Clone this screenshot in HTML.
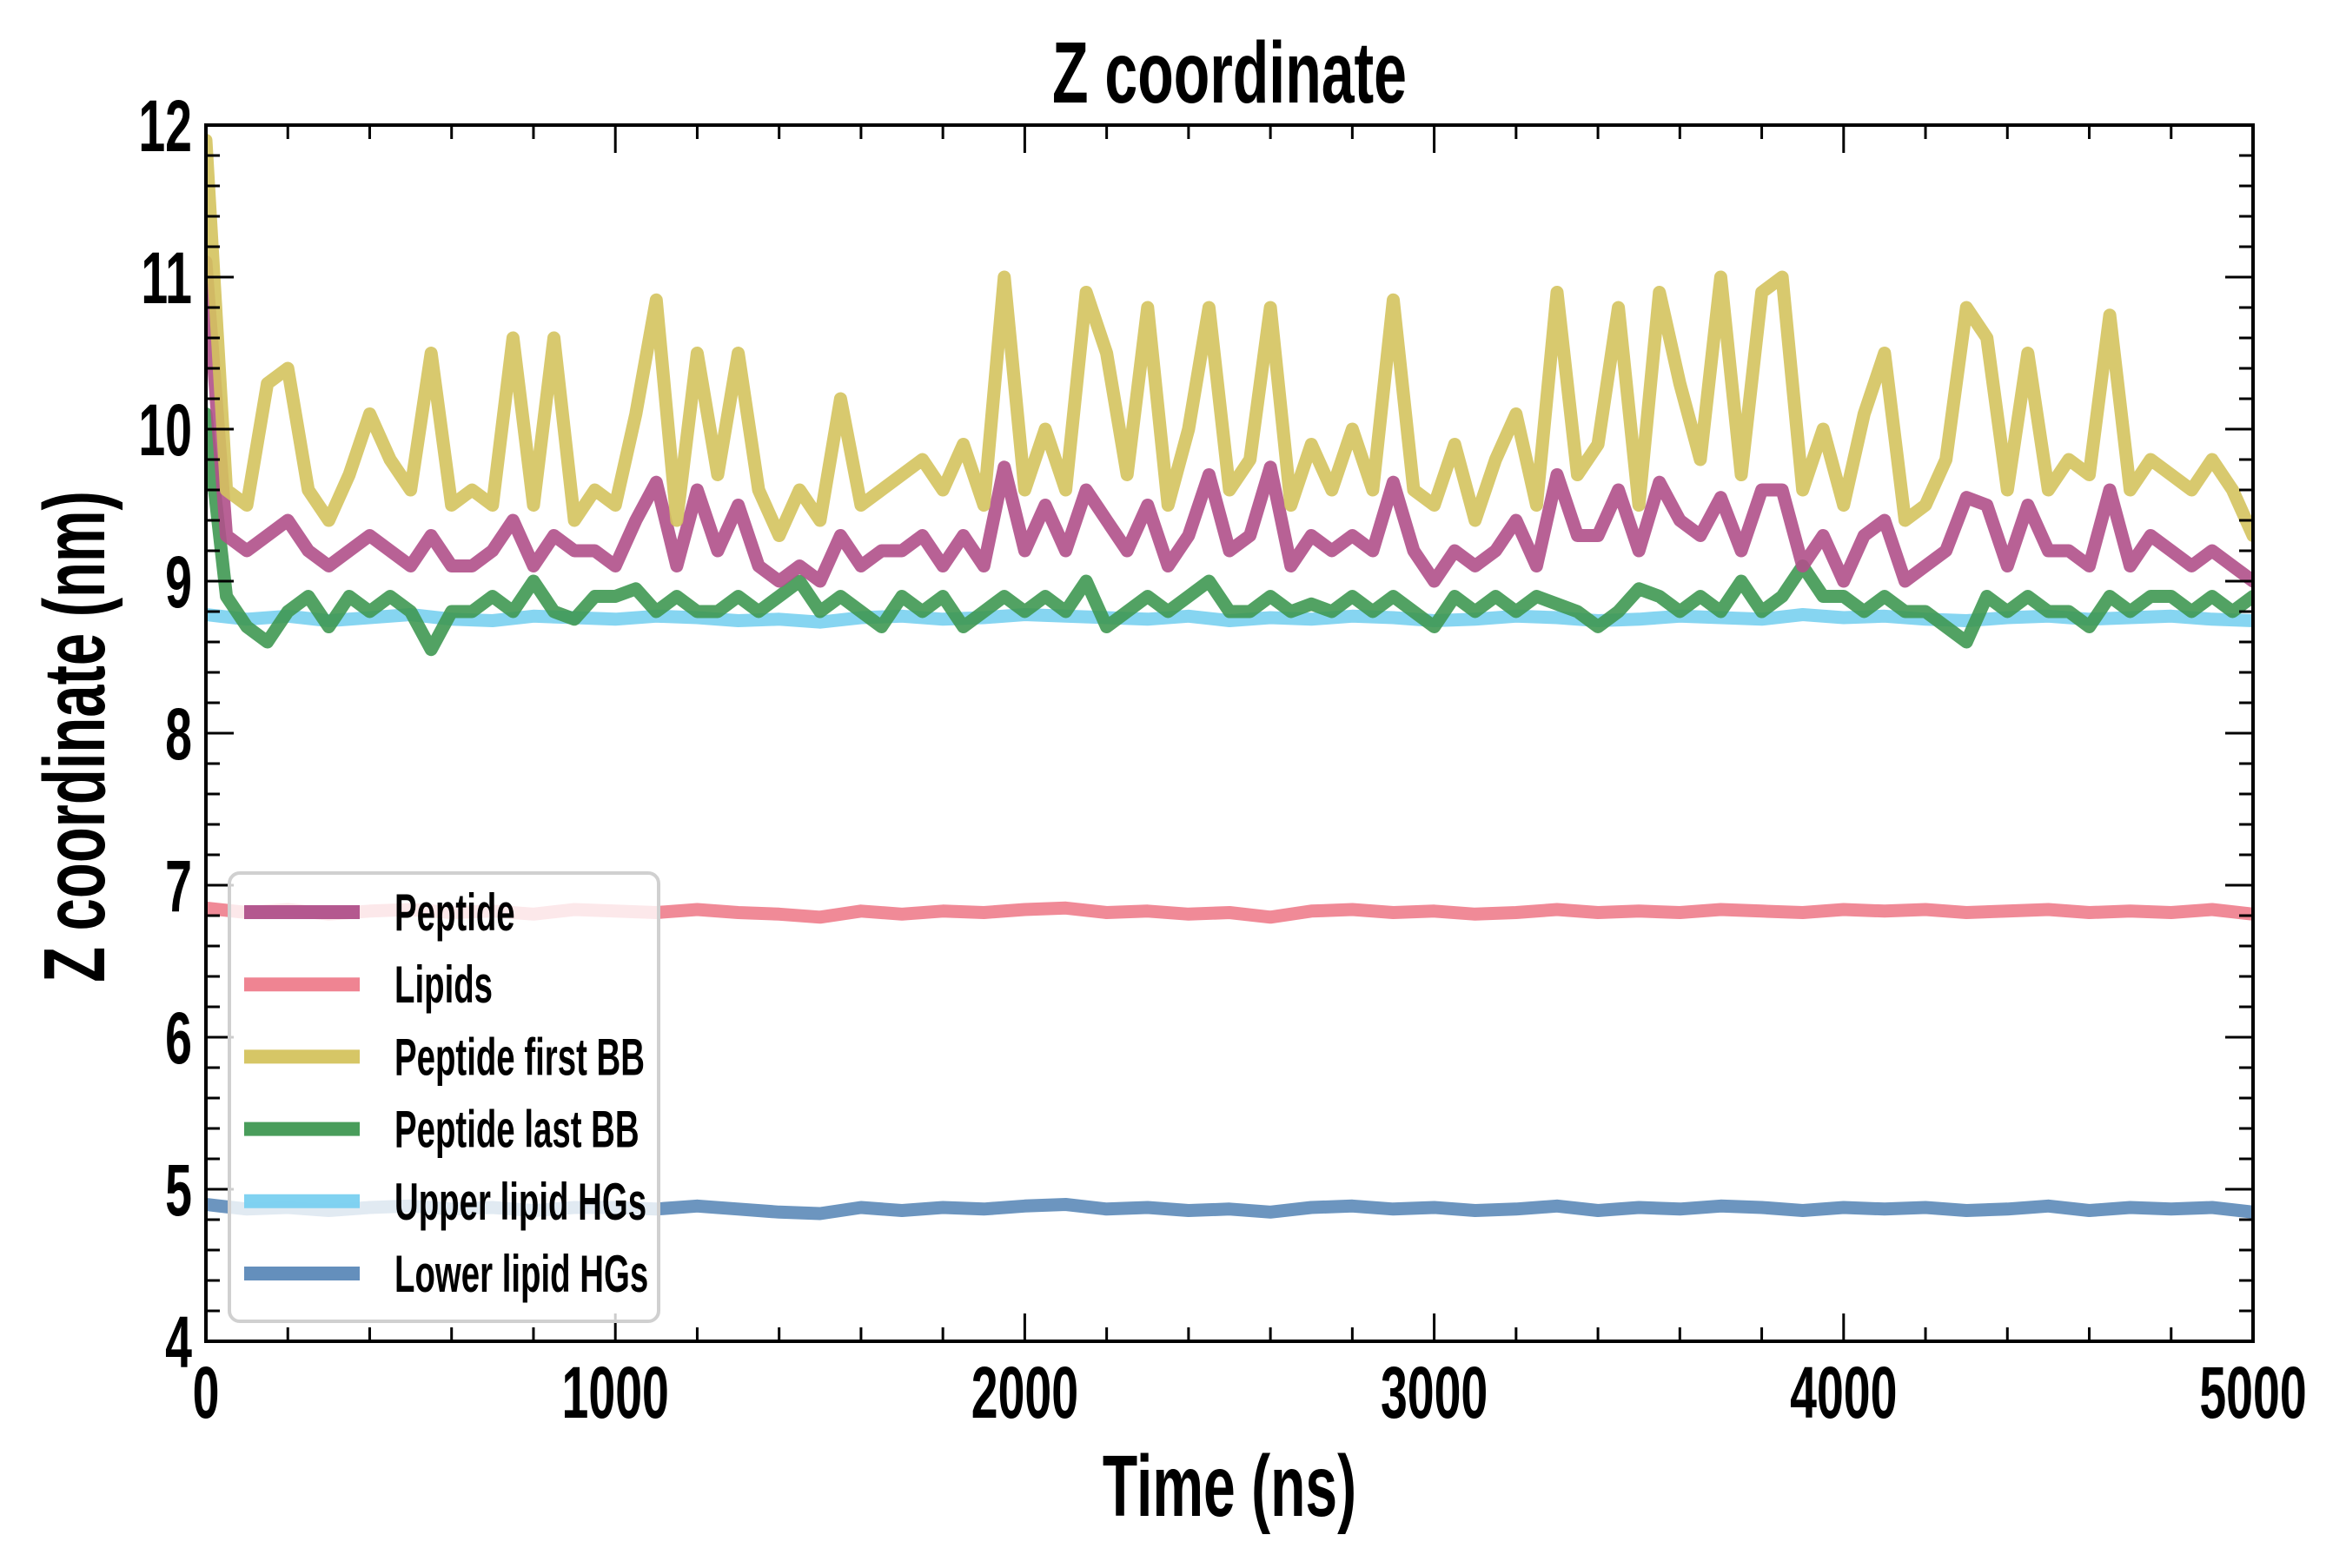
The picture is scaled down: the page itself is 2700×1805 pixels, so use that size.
<!DOCTYPE html>
<html><head><meta charset="utf-8"><style>
html,body{margin:0;padding:0;background:#fff;}
svg text{font-family:"Liberation Sans Narrow","Liberation Sans",sans-serif;font-weight:bold;fill:#000;}
</style></head><body>
<svg id="chart" width="2700" height="1800" viewBox="0 0 2700 1800" xmlns="http://www.w3.org/2000/svg">
<rect width="2700" height="1800" fill="#fff"/>
<g id="series"></g>
<g id="axes"></g>
<g id="legend"></g>
<text transform="translate(1415,118) scale(0.68,1)" font-size="100" text-anchor="middle">Z coordinate</text>
<text transform="translate(1415,1745) scale(0.66,1)" font-size="100" text-anchor="middle">Time (ns)</text>
<text transform="translate(120,848) rotate(-90) scale(0.67,1)" font-size="100" text-anchor="middle">Z coordinate (nm)</text>
</svg>
<script>
const xTicks=[0,1000,2000,3000,4000,5000];
const yTicks=[4,5,6,7,8,9,10,11,12];
const seriesNames=["Peptide","Lipids","Peptide first BB","Peptide last BB","Upper lipid HGs","Lower lipid HGs"];
const seriesColors=["#b0508a","#ee7d8c","#d4c35e","#3f9852","#79d0f0","#5c89b8"];
const tFine=[0,50,100,150,200,250,300,350,400,450,500,550,600,650,700,750,800,850,900,950,1000,1050,1100,1150,1200,1250,1300,1350,1400,1450,1500,1550,1600,1650,1700,1750,1800,1850,1900,1950,2000,2050,2100,2150,2200,2250,2300,2350,2400,2450,2500,2550,2600,2650,2700,2750,2800,2850,2900,2950,3000,3050,3100,3150,3200,3250,3300,3350,3400,3450,3500,3550,3600,3650,3700,3750,3800,3850,3900,3950,4000,4050,4100,4150,4200,4250,4300,4350,4400,4450,4500,4550,4600,4650,4700,4750,4800,4850,4900,4950,5000];
const firstBB=[11.9,9.6,9.5,10.3,10.4,9.6,9.4,9.7,10.1,9.8,9.6,10.5,9.5,9.6,9.5,10.6,9.5,10.6,9.4,9.6,9.5,10.1,10.85,9.4,10.5,9.7,10.5,9.6,9.3,9.6,9.4,10.2,9.5,9.6,9.7,9.8,9.6,9.9,9.5,11.0,9.6,10.0,9.6,10.9,10.5,9.7,10.8,9.5,10.0,10.8,9.6,9.8,10.8,9.5,9.9,9.6,10.0,9.6,10.85,9.6,9.5,9.9,9.4,9.8,10.1,9.5,10.9,9.7,9.9,10.8,9.5,10.9,10.3,9.8,11.0,9.7,10.9,11.0,9.6,10.0,9.5,10.1,10.5,9.4,9.5,9.8,10.8,10.6,9.6,10.5,9.6,9.8,9.7,10.75,9.6,9.8,9.7,9.6,9.8,9.6,9.3];
const peptide=[11.1,9.3,9.2,9.3,9.4,9.2,9.1,9.2,9.3,9.2,9.1,9.3,9.1,9.1,9.2,9.4,9.1,9.3,9.2,9.2,9.1,9.4,9.65,9.1,9.6,9.2,9.5,9.1,9.0,9.1,9.0,9.3,9.1,9.2,9.2,9.3,9.1,9.3,9.1,9.75,9.2,9.5,9.2,9.6,9.4,9.2,9.5,9.1,9.3,9.7,9.2,9.3,9.75,9.1,9.3,9.2,9.3,9.2,9.65,9.2,9.0,9.2,9.1,9.2,9.4,9.1,9.7,9.3,9.3,9.6,9.2,9.65,9.4,9.3,9.55,9.2,9.6,9.6,9.1,9.3,9.0,9.3,9.4,9.0,9.1,9.2,9.55,9.5,9.1,9.5,9.2,9.2,9.1,9.6,9.1,9.3,9.2,9.1,9.2,9.1,9.0];
const lastBB=[10.1,8.9,8.7,8.6,8.8,8.9,8.7,8.9,8.8,8.9,8.8,8.55,8.8,8.8,8.9,8.8,9.0,8.8,8.75,8.9,8.9,8.95,8.8,8.9,8.8,8.8,8.9,8.8,8.9,9.0,8.8,8.9,8.8,8.7,8.9,8.8,8.9,8.7,8.8,8.9,8.8,8.9,8.8,9.0,8.7,8.8,8.9,8.8,8.9,9.0,8.8,8.8,8.9,8.8,8.85,8.8,8.9,8.8,8.9,8.8,8.7,8.9,8.8,8.9,8.8,8.9,8.85,8.8,8.7,8.8,8.95,8.9,8.8,8.9,8.8,9.0,8.8,8.9,9.1,8.9,8.9,8.8,8.9,8.8,8.8,8.7,8.6,8.9,8.8,8.9,8.8,8.8,8.7,8.9,8.8,8.9,8.9,8.8,8.9,8.8,8.9];
const tCoarse=[0,100,200,300,400,500,600,700,800,900,1000,1100,1200,1300,1400,1500,1600,1700,1800,1900,2000,2100,2200,2300,2400,2500,2600,2700,2800,2900,3000,3100,3200,3300,3400,3500,3600,3700,3800,3900,4000,4100,4200,4300,4400,4500,4600,4700,4800,4900,5000];
const upperHG=[8.78,8.75,8.77,8.74,8.76,8.78,8.75,8.74,8.77,8.76,8.75,8.77,8.76,8.74,8.75,8.73,8.76,8.77,8.75,8.76,8.78,8.77,8.76,8.75,8.77,8.74,8.76,8.75,8.77,8.76,8.74,8.75,8.77,8.76,8.74,8.75,8.77,8.76,8.75,8.78,8.76,8.77,8.75,8.74,8.76,8.77,8.75,8.76,8.77,8.75,8.74];
const lipids=[6.85,6.82,6.84,6.81,6.83,6.84,6.82,6.83,6.81,6.84,6.83,6.82,6.84,6.82,6.81,6.79,6.83,6.81,6.83,6.82,6.84,6.85,6.82,6.83,6.81,6.82,6.79,6.83,6.84,6.82,6.83,6.81,6.82,6.84,6.82,6.83,6.82,6.84,6.83,6.82,6.84,6.83,6.84,6.82,6.83,6.84,6.82,6.83,6.82,6.84,6.81];
const lowerHG=[4.9,4.87,4.88,4.86,4.88,4.89,4.87,4.88,4.86,4.88,4.88,4.87,4.89,4.87,4.85,4.84,4.88,4.86,4.88,4.87,4.89,4.9,4.87,4.88,4.86,4.87,4.85,4.88,4.89,4.87,4.88,4.86,4.87,4.89,4.86,4.88,4.87,4.89,4.88,4.86,4.88,4.87,4.88,4.86,4.87,4.89,4.86,4.88,4.87,4.88,4.85];

const L=237,R=2593,T=144,B=1544;
function xs(v){return L+(v-0)/(5000-0)*(R-L);}
function ys(v){return B-(v-4)/(12-4)*(B-T);}
const NS="http://www.w3.org/2000/svg";
const gS=document.getElementById('series'),gA=document.getElementById('axes'),gL=document.getElementById('legend');
function mk(tag,attrs,parent){const e=document.createElementNS(NS,tag);for(const k in attrs)e.setAttribute(k,attrs[k]);parent.appendChild(e);return e;}

const clip=mk('clipPath',{id:'pc'},document.getElementById('chart'));
mk('rect',{x:L,y:T,width:R-L,height:B-T},clip);

const drawOrder=[[0,tFine,peptide],[1,tCoarse,lipids],[2,tFine,firstBB],[3,tFine,lastBB],[4,tCoarse,upperHG],[5,tCoarse,lowerHG]];
const order=[4,3,0,2,1,5];
order.forEach(i=>{
  const [idx,tt,vv]=drawOrder[i];
  const pts=tt.map((t,j)=>xs(t).toFixed(1)+','+ys(vv[j]).toFixed(1)).join(' ');
  const pl=mk('polyline',{points:pts,fill:'none',stroke:seriesColors[idx],'stroke-width':15,'stroke-linejoin':'round','stroke-linecap':'round','stroke-opacity':0.9,'clip-path':'url(#pc)'},gS);
  
  
});

for(let v=0;v<=5000;v+=200){
  const major=v%1000===0,len=major?32:16,x=xs(v);
  const a=mk('line',{x1:x,x2:x,y1:B,y2:B-len,stroke:'#000','stroke-width':3},gA);
  
  
  const b=mk('line',{x1:x,x2:x,y1:T,y2:T+len,stroke:'#000','stroke-width':3},gA);
  
  
}
for(let k=0;k<=40;k++){
  const v=4+k*0.2,major=k%5===0,len=major?32:16,y=ys(v);
  const a=mk('line',{x1:L,x2:L+len,y1:y,y2:y,stroke:'#000','stroke-width':3},gA);
  
  
  const b=mk('line',{x1:R,x2:R-len,y1:y,y2:y,stroke:'#000','stroke-width':3},gA);
  
  
}
xTicks.forEach(v=>{
  const t=mk('text',{transform:'translate('+xs(v)+','+(B+88)+') scale(0.66,1)','font-size':84,'text-anchor':'middle'},gA);
  t.textContent=v;
  
  
});
yTicks.forEach(v=>{
  const t=mk('text',{transform:'translate('+(L-16)+','+(ys(v)+30)+') scale(0.66,1)','font-size':84,'text-anchor':'end'},gA);
  t.textContent=v;
  
  
});
const fr=mk('rect',{x:L,y:T,width:R-L,height:B-T,fill:'none',stroke:'#000','stroke-width':4},gA);



const lb=mk('rect',{x:264,y:1005,width:494,height:516,rx:12,fill:'#fff','fill-opacity':0.8,stroke:'#d0d0d0','stroke-width':4},gL);


seriesNames.forEach((n,i)=>{
  const y=1050+i*83.2;
  const ln=mk('line',{x1:281,x2:414,y1:y,y2:y,stroke:seriesColors[i],'stroke-width':16,'stroke-opacity':0.95},gL);
  
  
  const t=mk('text',{transform:'translate(454,'+(y+21)+') scale(0.64,1)','font-size':60},gL);
  t.textContent=n;
  
  
});
</script>
</body></html>
